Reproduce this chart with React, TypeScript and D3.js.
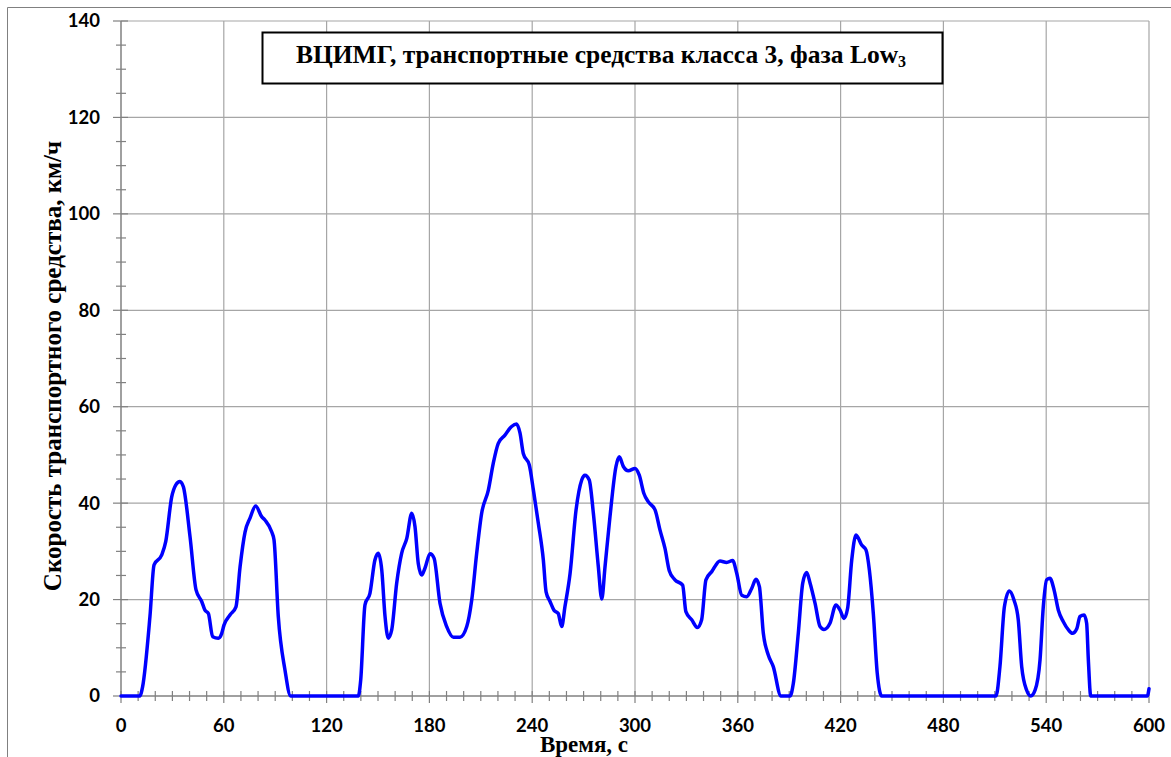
import React from "react";
import * as d3 from "d3";

const timeS: number[] = [
  0, 11, 12.6, 16.9, 19.3, 23.7, 26.1, 29.6, 32, 34.4, 36.4, 40.3, 43.8, 47.1, 49, 51, 53.5, 56.8, 58.8, 60.1,
  63.6, 67.1, 69.5, 72.4, 75.3, 78.6, 82.1, 84, 88, 89.3, 91.8, 95.7, 99,
  138.5, 139.9, 142.4, 145.3, 148.2, 150.2, 152.2, 154.1, 156, 158, 160.9, 163.8, 166.8, 169.7, 171.6, 173.5,
  175.5, 177.4, 180.4, 182.7, 186.2, 190.1, 194, 197.9, 201.8, 204.7, 207.6, 210.5, 214.4, 217.3, 220.2, 224.1,
  228, 230.9, 232.9, 234.8, 238.3, 240.7, 243.6, 246.5, 248.1, 250.4, 252.7, 255.2, 257.2, 259.1, 262.1, 265.6,
  268.9, 270.8, 273.3, 275.7, 278.6, 280.6, 282.5, 285.4, 288.9, 290.8, 293.2, 296.1, 300, 302.5, 305.2, 307.7,
  311.7, 314.6, 317.5, 320, 323.3, 327.8, 329.7, 333.1, 336.4, 338.9, 341.4, 344.8, 349.6, 353.5, 357, 359.4,
  362.3, 365.2, 368.1, 370.6, 372.6, 374.9, 377.8, 380.7, 385.2, 390.5, 392.4, 395.3, 397.9, 400.2, 402.2, 405.1,
  408, 410.3, 413.8, 417.3, 419.7, 422, 424.1, 426.5, 429, 432.3, 434.8, 436.8, 439.1, 441.4, 444,
  510.7, 513, 515.6, 518.5, 521.2, 523.7, 525.7, 528.6, 531, 533.5, 536.4, 538.3, 540.3, 542.2, 544.6, 547.1,
  550, 553, 555.3, 557.9, 559.7, 562.1, 563.6, 564.6, 566, 599, 600,
];

const speedKmh: number[] = [
  0, 0, 1.9, 16.5, 27.2, 29.2, 32, 41.3, 43.8, 44.5, 43.4, 33, 22, 19.6, 17.8, 17.1, 12.3, 12, 13, 14.7,
  16.8, 18.5, 26.8, 34, 36.9, 39.4, 37.2, 36.5, 34, 32.4, 16.5, 5.4, 0,
  0, 3.3, 18.9, 21.3, 28.2, 29.6, 26.1, 16.5, 12, 13.7, 23.4, 29.6, 32.7, 37.9, 35.1, 27.5,
  25.1, 26.5, 29.5, 28.6, 19.2, 14.4, 12.2, 12.2, 14.4, 19.9, 29.6, 37.9, 42.7, 48.3, 52.4, 54.1,
  55.9, 56.4, 54.5, 50.3, 47.9, 42.7, 35.8, 28.2, 21.6, 19.6, 17.8, 17.1, 14.4, 18.5, 25.4, 38.6,
  44.8, 45.8, 44.8, 37.9, 26.8, 20.1, 26.8, 37.2, 47.6, 49.6, 47.6, 46.7, 47.2, 45.8, 42, 40.3,
  38.6, 34.4, 30.6, 26, 24.1, 23, 17.5, 15.8, 14.2, 15.8, 24.1, 25.8, 28, 27.7, 28.1, 25.4,
  20.9, 20.6, 22.3, 24.2, 22.7, 13, 8.5, 6.1, 0, 0, 2.6, 13, 23.4, 25.6, 23.4, 19.2,
  14.4, 13.8, 15.1, 18.9, 17.8, 16.1, 18.2, 28.2, 33.4, 31.3, 30.3, 26.1, 17.1, 4.7, 0,
  0, 6.1, 18.5, 21.8, 19.9, 15.8, 6.1, 1.2, 0, 1.2, 7.5, 18.5, 24.1, 24.4, 22, 17.8,
  15.4, 13.7, 13, 14, 16.5, 16.8, 15.1, 7.5, 0, 0, 1.5,
];

const xTicks: number[] = [0, 60, 120, 180, 240, 300, 360, 420, 480, 540, 600];
const yTicks: number[] = [0, 20, 40, 60, 80, 100, 120, 140];

const titleMain = "ВЦИМГ, транспортные средства класса 3, фаза Low";
const titleSub = "3";
const yTitle = "Скорость транспортного средства, км/ч";
const xTitle = "Время, с";

export default function App() {
  const W = 1171;
  const H = 757;
  const x = d3.scaleLinear().domain([0, 600]).range([121, 1149]);
  const y = d3.scaleLinear().domain([0, 140]).range([696, 21]);

  const pts: [number, number][] = timeS.map((t, i) => [t, speedKmh[i]]);
  const line = d3
    .line<[number, number]>()
    .x((d) => x(d[0]))
    .y((d) => y(d[1]))
    .curve(d3.curveMonotoneX);

  const xMinor = d3.range(0, 601, 10);
  const yMinor = d3.range(0, 141, 5);
  const gridColor = "#a6a6a6";
  const axisColor = "#808080";
  const tickFont = "Lato, 'Open Sans', sans-serif";
  const serif = "'Liberation Serif', 'Times New Roman', serif";

  return (
    <svg
      width={W}
      height={H}
      style={{ position: "absolute", left: 0, top: 0, background: "#fff" }}
    >
      <rect x={0} y={0} width={W} height={H} fill="#fff" />
      {/* outer frame */}
      <line x1={7.5} y1={7.5} x2={W} y2={7.5} stroke={axisColor} strokeWidth={1} />
      <line x1={7.5} y1={7.5} x2={7.5} y2={H} stroke={axisColor} strokeWidth={1} />

      {/* grid */}
      {xTicks.slice(1).map((t) => (
        <line key={"gx" + t} x1={x(t)} x2={x(t)} y1={y(140)} y2={y(0)} stroke={gridColor} strokeWidth={1.2} />
      ))}
      {yTicks.slice(1).map((v) => (
        <line key={"gy" + v} x1={x(0)} x2={x(600)} y1={y(v)} y2={y(v)} stroke={gridColor} strokeWidth={1.2} />
      ))}

      {/* axes */}
      <line x1={x(0)} x2={x(0)} y1={y(140)} y2={y(0)} stroke={axisColor} strokeWidth={1.5} />
      <line x1={x(0)} x2={x(600)} y1={y(0)} y2={y(0)} stroke={axisColor} strokeWidth={1.5} />

      {/* ticks */}
      {yMinor.map((v) => (
        <line
          key={"ym" + v}
          x1={v % 20 === 0 ? 113 : 116}
          x2={v % 20 === 0 ? 128 : 126}
          y1={y(v)}
          y2={y(v)}
          stroke={axisColor}
          strokeWidth={1.2}
        />
      ))}
      {xMinor.map((t) => (
        <line
          key={"xm" + t}
          x1={x(t)}
          x2={x(t)}
          y1={691}
          y2={t % 60 === 0 ? 703 : 701}
          stroke={axisColor}
          strokeWidth={1.2}
        />
      ))}

      {/* tick labels */}
      {yTicks.map((v) => (
        <text
          key={"yl" + v}
          x={100}
          y={y(v)}
          dy="0.35em"
          textAnchor="end"
          fontFamily={tickFont}
          fontWeight="bold"
          fontSize={18.5}
          fill="#000"
        >
          {v}
        </text>
      ))}
      {xTicks.map((t) => (
        <text
          key={"xl" + t}
          x={x(t)}
          y={732}
          textAnchor="middle"
          fontFamily={tickFont}
          fontWeight="bold"
          fontSize={18.5}
          fill="#000"
        >
          {t}
        </text>
      ))}

      {/* data line */}
      <path
        d={line(pts) || ""}
        fill="none"
        stroke="#0000ff"
        strokeWidth={3.5}
        strokeLinejoin="round"
        strokeLinecap="round"
      />

      {/* title box */}
      <rect x={262.5} y={32.5} width={680} height={51} fill="#fff" stroke="#000" strokeWidth={2} />
      <text
        x={601}
        y={63}
        textAnchor="middle"
        fontFamily={serif}
        fontWeight="bold"
        fontSize={25.5}
        fill="#000"
      >
        {titleMain}
        <tspan fontSize={16} dy={4}>
          {titleSub}
        </tspan>
      </text>

      {/* axis titles */}
      <text
        transform={`translate(61, ${366}) rotate(-90)`}
        textAnchor="middle"
        fontFamily={serif}
        fontWeight="bold"
        fontSize={25}
        fill="#000"
      >
        {yTitle}
      </text>
      <text
        x={584}
        y={752}
        textAnchor="middle"
        fontFamily={serif}
        fontWeight="bold"
        fontSize={23}
        fill="#000"
      >
        {xTitle}
      </text>
    </svg>
  );
}
